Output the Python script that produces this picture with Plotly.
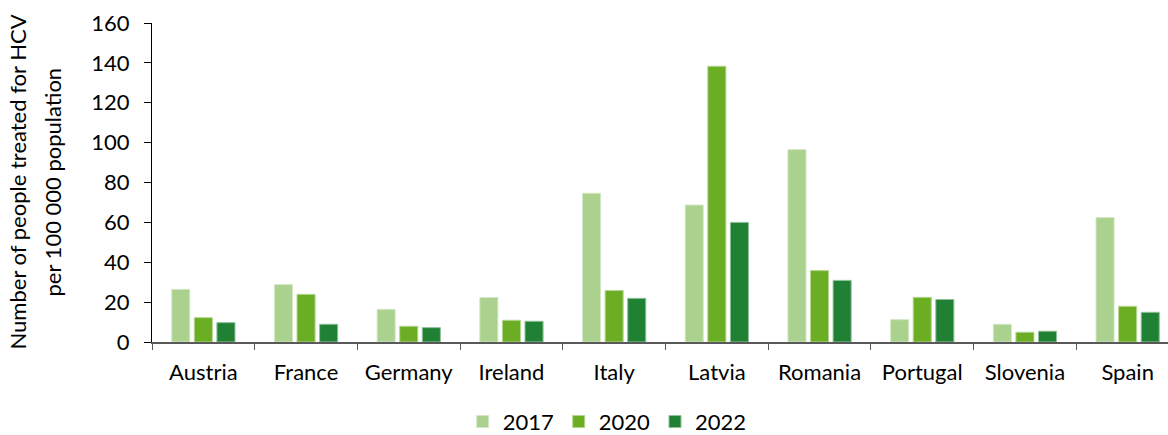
import plotly.graph_objects as go

# HCV treatment rates per 100 000 population
countries = ["Austria", "France", "Germany", "Ireland", "Italy",
             "Latvia", "Romania", "Portugal", "Slovenia", "Spain"]
rate_2017 = [26.4, 28.8, 16.4, 22.3, 74.6, 68.7, 96.5, 11.2, 8.9, 62.4]
rate_2020 = [12.2, 23.9, 7.9, 10.9, 25.8, 138.3, 35.8, 22.4, 4.9, 17.9]
rate_2022 = [9.7, 8.9, 7.2, 10.4, 21.9, 60.0, 30.9, 21.3, 5.4, 14.9]
years = ["2017", "2020", "2022"]
title_lines = ["Number of people treated for HCV", "per 100 000 population"]

series = [rate_2017, rate_2020, rate_2022]
colors = ["#AAD18E", "#6BAE24", "#208135"]
edges = ["#D4E8C6", "#B4D690", "#8FC09A"]

FONT = "Lato, Calibri, Carlito, sans-serif"
FS = 22

fig = go.Figure()
for name, vals, c, e in zip(years, series, colors, edges):
    fig.add_trace(go.Bar(
        x=countries, y=vals, name=name,
        marker=dict(color=c, line=dict(color=e, width=1)),
    ))

# two-line rotated y-axis title, placed line by line
for text, xpx in zip(title_lines, [-135, -100]):
    fig.add_annotation(
        text=text, textangle=-90, showarrow=False,
        xref="x domain", yref="y domain",
        x=0, y=0.5, xshift=xpx, xanchor="center", yanchor="middle",
        font=dict(size=FS, family=FONT, color="#000000"),
    )

fig.update_layout(
    width=1168, height=435,
    margin=dict(l=152, r=0, t=23, b=93, autoexpand=False),
    paper_bgcolor="white", plot_bgcolor="white",
    barmode="group", bargap=0.34, bargroupgap=0.2,
    font=dict(family=FONT, size=FS, color="#000000"),
    showlegend=True,
    legend=dict(orientation="h", x=0.448, xanchor="center",
                y=-0.25, yanchor="middle",
                font=dict(size=FS), itemwidth=30,
                traceorder="normal"),
    xaxis=dict(
        range=[-0.5, 9.393],
        showline=True, linecolor="#595959", linewidth=1.5,
        ticks="outside", ticklen=6, tickcolor="#595959",
        tickson="boundaries", ticklabelstandoff=10,
        showgrid=False, zeroline=False,
        tickfont=dict(size=FS),
    ),
    yaxis=dict(
        range=[0, 160], dtick=20,
        showline=True, linecolor="#000000", linewidth=1,
        ticks="outside", ticklen=7, tickcolor="#000000",
        ticklabelstandoff=10,
        showgrid=False, zeroline=False,
        tickfont=dict(size=FS),
    ),
)

fig.write_html("out.html")
